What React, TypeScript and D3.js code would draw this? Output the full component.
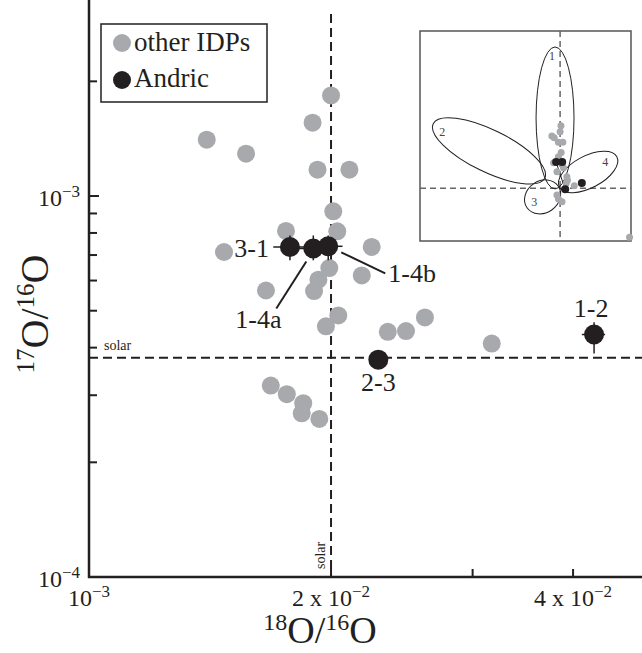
import React, { useEffect, useRef } from 'react';
import * as d3 from 'd3';

const W = 642;
const H = 653;

// other IDPs: 18O/16O and 17O/16O
const idpX = [0.01401, 0.01568, 0.01897, 0.0200, 0.01924, 0.02108, 0.02013, 0.02036, 0.01758, 0.01472, 0.02247, 0.0199, 0.02184, 0.01929, 0.01905, 0.0166, 0.02042, 0.01971, 0.02353, 0.02479, 0.02617, 0.03169, 0.01683, 0.01762, 0.01847, 0.01839, 0.01934];
const idpY = [1.406e-3, 1.292e-3, 1.558e-3, 1.837e-3, 1.173e-3, 1.173e-3, 9.12e-4, 8.08e-4, 8.1e-4, 7.13e-4, 7.35e-4, 6.47e-4, 6.19e-4, 6.03e-4, 5.63e-4, 5.65e-4, 4.86e-4, 4.55e-4, 4.4e-4, 4.42e-4, 4.8e-4, 4.1e-4, 3.18e-4, 3.02e-4, 2.86e-4, 2.69e-4, 2.6e-4];

// Andric fragments
const andricNames = ['3-1', '1-4a', '1-4b', '2-3', '1-2'];
const andricX = [0.01778, 0.01901, 0.01984, 0.0229, 0.04248];
const andricY = [7.35e-4, 7.28e-4, 7.38e-4, 3.72e-4, 4.33e-4];
const andricXLo = [0.01695, 0.01811, 0.01905, 0.0229, 0.04102];
const andricXHi = [0.01866, 0.01995, 0.02067, 0.0229, 0.04384];
const andricYLo = [6.78e-4, 6.78e-4, 6.78e-4, 3.72e-4, 3.86e-4];
const andricYHi = [7.88e-4, 7.88e-4, 7.88e-4, 3.72e-4, 4.66e-4];

// label placement relative to each point (px): text dx, dy, anchor, leader line
const labelPos = [
    { dx: -21, dy: 10, anchor: 'end', line: null },
    { dx: -78, dy: 79, anchor: 'start', line: [-7, 13, -37, 60] },
    { dx: 60, dy: 36, anchor: 'start', line: [13, 6, 57, 27] },
    { dx: 0, dy: 31, anchor: 'middle', line: null },
    { dx: -3, dy: -18, anchor: 'middle', line: null },
];

const solarX = 0.02;
const solarY = 3.76e-4;

// axis ticks
const xTickVals = [0.01, 0.02, 0.04];
const xTickBase = ['10', '2 x 10', '4 x 10'];
const xTickExp = ['\u22123', '\u22122', '\u22122'];
const xMinorTicks = [0.02, 0.03, 0.04];
const yTickVals = [1e-4, 1e-3];
const yTickExp = ['\u22124', '\u22123'];
const yMinorTicks = [2e-4, 3e-4, 4e-4, 5e-4, 6e-4, 7e-4, 8e-4, 9e-4, 2e-3];

// inset (arbitrary 0-100 units)
const insetGrayU = [66.8, 66.4, 62.5, 63.6, 65.6, 67.7, 66.9, 65.6, 63.3, 64.9, 68.0, 69.6, 69.9, 69.3, 73.1, 64.9, 65.6, 67.3, 99.3];
const insetGrayV = [54.9, 52.0, 50.0, 49.2, 47.0, 47.0, 42.2, 40.1, 37.3, 33.0, 34.9, 30.6, 28.9, 27.5, 26.3, 21.9, 20.0, 18.7, 1.8];
const insetBlackU = [64.5, 67.4, 76.7, 68.8];
const insetBlackV = [37.6, 37.6, 27.6, 24.6];
const insetSolarU = 66.4;
const insetSolarV = 25.1;
const ellipseNames = ['1', '2', '3', '4'];
const ellipseCU = [64.0, 32.7, 58.1, 79.7];
const ellipseCV = [58.6, 42.9, 21.0, 32.9];
const ellipseRU = [9.0, 29.4, 9.0, 15.4];
const ellipseRV = [33.8, 10.0, 7.6, 7.6];
const ellipseAngle = [0, 26, -35, -28];
const ellipseLabelU = [62.5, 10.6, 54.1, 87.8];
const ellipseLabelV = [88.2, 51.8, 18.7, 37.5];

const INK = '#231f20';
const GRAY = '#a7a9ac';
const FONT = 'Liberation Serif, Tinos, Times New Roman, DejaVu Serif, serif';

export default function App() {
    const svgRef = useRef<SVGSVGElement>(null);

    useEffect(() => {
        const svg = d3.select(svgRef.current);
        svg.selectAll('*').remove();

        const left = 89;
        const bottom = 577;

        const x = d3.scaleLog().domain([0.01, 0.04873]).range([left, W]);
        const y = d3.scaleLog().domain([1e-4, 3.27e-3]).range([bottom, 0]);

        svg.append('rect').attr('width', W).attr('height', H).attr('fill', 'white');

        const root = svg.append('g').style('font-family', FONT);

        // solar lines
        root.append('line')
            .attr('x1', left).attr('x2', W)
            .attr('y1', y(solarY)).attr('y2', y(solarY))
            .attr('stroke', INK).attr('stroke-width', 2).attr('stroke-dasharray', '9,5');
        root.append('line')
            .attr('x1', x(solarX)).attr('x2', x(solarX))
            .attr('y1', y.range()[1] + 14).attr('y2', bottom)
            .attr('stroke', INK).attr('stroke-width', 2).attr('stroke-dasharray', '9,5');
        root.append('text')
            .attr('x', left + 15).attr('y', y(solarY) - 8)
            .attr('font-size', 14).attr('fill', INK)
            .text('solar');
        root.append('text')
            .attr('transform', `translate(${x(solarX) - 6},${bottom - 8}) rotate(-90)`)
            .attr('font-size', 14).attr('fill', INK)
            .text('solar');

        // other IDPs
        root.append('g')
            .selectAll('circle')
            .data(idpX)
            .enter()
            .append('circle')
            .attr('cx', (d) => x(d))
            .attr('cy', (d, i) => y(idpY[i]))
            .attr('r', 9)
            .attr('fill', GRAY);

        // Andric with error bars
        const andric = root.append('g');
        andricX.forEach((d, i) => {
            andric.append('line')
                .attr('x1', x(andricXLo[i])).attr('x2', x(andricXHi[i]))
                .attr('y1', y(andricY[i])).attr('y2', y(andricY[i]))
                .attr('stroke', INK).attr('stroke-width', 1.5);
            andric.append('line')
                .attr('x1', x(d)).attr('x2', x(d))
                .attr('y1', y(andricYLo[i])).attr('y2', y(andricYHi[i]))
                .attr('stroke', INK).attr('stroke-width', 1.5);
        });
        andric.selectAll('circle')
            .data(andricX)
            .enter()
            .append('circle')
            .attr('cx', (d) => x(d))
            .attr('cy', (d, i) => y(andricY[i]))
            .attr('r', 10)
            .attr('fill', INK);

        andricNames.forEach((name, i) => {
            const px = x(andricX[i]);
            const py = y(andricY[i]);
            const p = labelPos[i];
            if (p.line) {
                root.append('line')
                    .attr('x1', px + p.line[0]).attr('y1', py + p.line[1])
                    .attr('x2', px + p.line[2]).attr('y2', py + p.line[3])
                    .attr('stroke', INK).attr('stroke-width', 2);
            }
            root.append('text')
                .attr('x', px + p.dx).attr('y', py + p.dy)
                .attr('text-anchor', p.anchor)
                .attr('font-size', 26).attr('fill', INK)
                .text(name);
        });

        // inset
        const ix = d3.scaleLinear().domain([0, 100]).range([420, 631]);
        const iy = d3.scaleLinear().domain([0, 100]).range([241, 31]);
        const kx = (ix(100) - ix(0)) / 100;
        const ky = (iy(0) - iy(100)) / 100;
        const inset = root.append('g');
        inset.append('rect')
            .attr('x', ix(0)).attr('y', iy(100))
            .attr('width', ix(100) - ix(0)).attr('height', iy(0) - iy(100))
            .attr('fill', 'white').attr('stroke', '#555').attr('stroke-width', 1.5);
        inset.append('line')
            .attr('x1', ix(insetSolarU)).attr('x2', ix(insetSolarU))
            .attr('y1', iy(100)).attr('y2', iy(0))
            .attr('stroke', '#666').attr('stroke-width', 1.5).attr('stroke-dasharray', '6,4');
        inset.append('line')
            .attr('x1', ix(0)).attr('x2', ix(100))
            .attr('y1', iy(insetSolarV)).attr('y2', iy(insetSolarV))
            .attr('stroke', '#666').attr('stroke-width', 1.5).attr('stroke-dasharray', '6,4');
        ellipseNames.forEach((name, i) => {
            inset.append('ellipse')
                .attr('transform', `translate(${ix(ellipseCU[i])},${iy(ellipseCV[i])}) rotate(${ellipseAngle[i]})`)
                .attr('rx', ellipseRU[i] * kx)
                .attr('ry', ellipseRV[i] * ky)
                .attr('fill', 'none').attr('stroke', INK).attr('stroke-width', 1);
            inset.append('text')
                .attr('x', ix(ellipseLabelU[i])).attr('y', iy(ellipseLabelV[i]) + 4)
                .attr('text-anchor', 'middle')
                .attr('font-size', 12).attr('fill', '#444')
                .text(name);
        });
        inset.append('line')
            .attr('x1', ix(insetBlackU[0])).attr('y1', iy(insetBlackV[0]))
            .attr('x2', ix(insetBlackU[3])).attr('y2', iy(insetBlackV[3]))
            .attr('stroke', INK).attr('stroke-width', 1);
        inset.selectAll('circle.g')
            .data(insetGrayU)
            .enter()
            .append('circle')
            .attr('cx', (d) => ix(d))
            .attr('cy', (d, i) => iy(insetGrayV[i]))
            .attr('r', 3.5)
            .attr('fill', GRAY);
        inset.selectAll('circle.b')
            .data(insetBlackU)
            .enter()
            .append('circle')
            .attr('cx', (d) => ix(d))
            .attr('cy', (d, i) => iy(insetBlackV[i]))
            .attr('r', 4)
            .attr('fill', INK);

        // axes
        root.append('line')
            .attr('x1', left).attr('x2', left).attr('y1', 0).attr('y2', bottom + 1)
            .attr('stroke', INK).attr('stroke-width', 2.5);
        root.append('line')
            .attr('x1', left - 1).attr('x2', W).attr('y1', bottom).attr('y2', bottom)
            .attr('stroke', INK).attr('stroke-width', 2.5);

        yMinorTicks.forEach((v) => {
            root.append('line')
                .attr('x1', left).attr('x2', left + 8).attr('y1', y(v)).attr('y2', y(v))
                .attr('stroke', INK).attr('stroke-width', 2);
        });
        yTickVals.forEach((v, i) => {
            root.append('line')
                .attr('x1', left).attr('x2', left + 10).attr('y1', y(v)).attr('y2', y(v))
                .attr('stroke', INK).attr('stroke-width', 2);
            const t = root.append('text')
                .attr('x', left - 9).attr('y', y(v) + 10)
                .attr('text-anchor', 'end')
                .attr('font-size', 24).attr('fill', INK);
            t.append('tspan').text('10');
            t.append('tspan').attr('dy', -9).attr('font-size', 17).text(yTickExp[i]);
        });
        xMinorTicks.forEach((v) => {
            root.append('line')
                .attr('x1', x(v)).attr('x2', x(v)).attr('y1', bottom).attr('y2', bottom - 8)
                .attr('stroke', INK).attr('stroke-width', 2);
        });
        xTickVals.forEach((v, i) => {
            const t = root.append('text')
                .attr('x', x(v)).attr('y', bottom + 29)
                .attr('text-anchor', 'middle')
                .attr('font-size', 24).attr('fill', INK);
            t.append('tspan').text(xTickBase[i]);
            t.append('tspan').attr('dy', -9).attr('font-size', 17).text(xTickExp[i]);
        });

        // axis titles
        const xt = root.append('text')
            .attr('x', 320).attr('y', 643)
            .attr('text-anchor', 'middle')
            .attr('font-size', 38).attr('fill', INK);
        xt.append('tspan').attr('font-size', 24).attr('dy', -13).text('18');
        xt.append('tspan').attr('dy', 13).text('O/');
        xt.append('tspan').attr('font-size', 24).attr('dy', -13).text('16');
        xt.append('tspan').attr('dy', 13).text('O');

        const yt = root.append('text')
            .attr('transform', 'translate(48,314) rotate(-90)')
            .attr('text-anchor', 'middle')
            .attr('font-size', 40).attr('fill', INK);
        yt.append('tspan').attr('font-size', 25).attr('dy', -14).text('17');
        yt.append('tspan').attr('dy', 14).text('O/');
        yt.append('tspan').attr('font-size', 25).attr('dy', -14).text('16');
        yt.append('tspan').attr('dy', 14).text('O');

        // legend
        const lg = root.append('g');
        lg.append('rect')
            .attr('x', 101).attr('y', 24).attr('width', 166).attr('height', 78)
            .attr('fill', 'white').attr('stroke', INK).attr('stroke-width', 1.5);
        const legendItems = [
            { label: 'other IDPs', color: GRAY },
            { label: 'Andric', color: INK },
        ];
        legendItems.forEach((item, i) => {
            lg.append('circle')
                .attr('cx', 122).attr('cy', 43 + i * 37)
                .attr('r', 9).attr('fill', item.color);
            lg.append('text')
                .attr('x', 134).attr('y', 51 + i * 36)
                .attr('font-size', 27).attr('fill', INK)
                .text(item.label);
        });
    }, []);

    return (
        <svg
            ref={svgRef}
            width={W}
            height={H}
            style={{ position: 'absolute', left: 0, top: 0, display: 'block' }}
        />
    );
}
